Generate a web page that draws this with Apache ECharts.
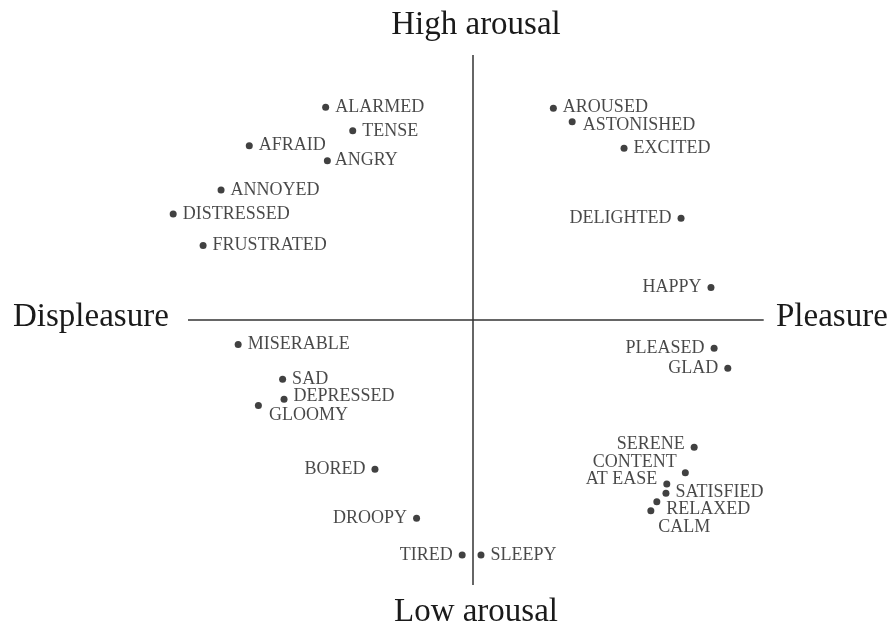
<!DOCTYPE html>
<html>
<head>
<meta charset="utf-8">
<script src="https://cdn.jsdelivr.net/npm/echarts@6/dist/echarts.min.js"></script>
<style>
html,body{margin:0;padding:0;background:#fff;}
#chart{width:892px;height:628px;}
</style>
</head>
<body>
<div id="chart"></div>
<script>
// ---- data ----
const emotions = ["ALARMED","TENSE","AFRAID","ANGRY","ANNOYED","DISTRESSED","FRUSTRATED",
  "AROUSED","ASTONISHED","EXCITED","DELIGHTED","HAPPY",
  "MISERABLE","SAD","DEPRESSED","GLOOMY",
  "PLEASED","GLAD","SERENE","CONTENT","AT EASE","SATISFIED","RELAXED","CALM",
  "BORED","DROOPY","TIRED","SLEEPY"];
const pleasure = [-0.517,-0.422,-0.785,-0.511,-0.884,-1.052,-0.947,
  0.282,0.348,0.530,0.730,0.835,
  -0.824,-0.668,-0.663,-0.753,
  0.846,0.894,0.776,0.745,0.680,0.677,0.645,0.624,
  -0.344,-0.198,-0.038,0.028];
const arousal = [0.803,0.714,0.658,0.601,0.491,0.400,0.281,
  0.799,0.748,0.648,0.384,0.123,
  -0.092,-0.224,-0.299,-0.323,
  -0.107,-0.182,-0.480,-0.576,-0.619,-0.654,-0.686,-0.720,
  -0.563,-0.748,-0.887,-0.887];
const axisTitles = {top:"High arousal", bottom:"Low arousal", left:"Displeasure", right:"Pleasure"};
const pleasureExtent = [-1, 1.02];
const arousalExtent = [-1, 1];

// ---- label placement (style) ----
const leftLabeled = new Set(["DELIGHTED","HAPPY","PLEASED","GLAD","SERENE","CONTENT","AT EASE","BORED","DROOPY","TIRED"]);
const labelShift = {
  "GLOOMY":[1,10], "DEPRESSED":[0,-3], "ASTONISHED":[1,3], "AROUSED":[0,-1],
  "SERENE":[0,-3], "CONTENT":[1,-10], "AT EASE":[0,-5],
  "SATISFIED":[0,-1], "RELAXED":[0,7], "CALM":[-2,16], "ANGRY":[-2,0]
};

const serif = '"Liberation Serif","DejaVu Serif",serif';
const pts = emotions.map((n,i)=>{
  const sh = labelShift[n] || [0,0];
  return {
    name:n,
    value:[pleasure[i], arousal[i]],
    label:{
      show:true,
      position: leftLabeled.has(n) ? 'left' : 'right',
      offset: sh
    }
  };
});

const chart = echarts.init(document.getElementById('chart'), null, {renderer:'canvas'});
chart.setOption({
  animation:false,
  backgroundColor:'#fff',
  grid:{left:131, right:105.5, top:55, bottom:43},
  xAxis:{type:'value', min:-1.2, max:1.1, show:false},
  yAxis:{type:'value', min:-1, max:1, show:false},
  graphic:[
    {type:'text', style:{text:axisTitles.top, x:476, y:25, font:'33px '+serif, fill:'#1a1a1a', textAlign:'center', textVerticalAlign:'middle'}},
    {type:'text', style:{text:axisTitles.bottom, x:476, y:612, font:'33px '+serif, fill:'#1a1a1a', textAlign:'center', textVerticalAlign:'middle'}},
    {type:'text', style:{text:axisTitles.left, x:13, y:317, font:'33px '+serif, fill:'#1a1a1a', textAlign:'left', textVerticalAlign:'middle'}},
    {type:'text', style:{text:axisTitles.right, x:776, y:317, font:'33px '+serif, fill:'#1a1a1a', textAlign:'left', textVerticalAlign:'middle'}}
  ],
  series:[{
    type:'scatter',
    data:pts,
    symbol:'circle',
    symbolSize:7,
    itemStyle:{color:'#111'},
    label:{
      show:true,
      formatter:'{b}',
      distance:6,
      fontFamily:serif,
      fontSize:18,
      color:'#1a1a1a'
    },
    markLine:{
      silent:true,
      symbol:'none',
      label:{show:false},
      lineStyle:{color:'#333', width:1.5, type:'solid'},
      data:[
        [{coord:[pleasureExtent[0],0]},{coord:[pleasureExtent[1],0]}],
        [{coord:[0,arousalExtent[0]]},{coord:[0,arousalExtent[1]]}]
      ]
    }
  }]
});
</script>
</body>
</html>
